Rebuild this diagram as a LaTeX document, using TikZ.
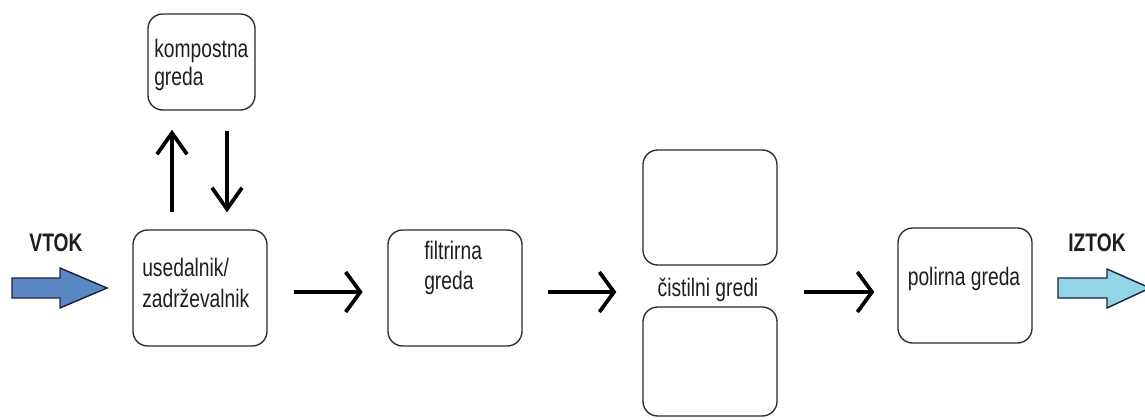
\documentclass[tikz,border=0pt]{standalone}
\usepackage{fontspec}
\setmainfont{Liberation Sans}[FakeStretch=0.76]
\usetikzlibrary{arrows.meta,calc}
\definecolor{boxline}{HTML}{2A2A2A}
\definecolor{txt}{HTML}{1E1E1E}
\definecolor{inblue}{HTML}{5B87C4}
\definecolor{outcyan}{HTML}{92D5E6}
\definecolor{blockline}{HTML}{1A2540}
\tikzset{
  pbox/.style={draw=boxline, line width=1pt, rounded corners=11pt, rectangle, inner sep=0pt, minimum width=100.5pt},
  lbl/.style={inner sep=0pt, text=txt, font=\fontsize{19pt}{23pt}\selectfont, align=left},
  title/.style={inner sep=0pt, text=txt, font=\fontsize{19pt}{23pt}\selectfont\bfseries},
  harrow/.style={line width=2.8pt, -{Straight Barb[length=11pt,width=30pt]}},
  varrow/.style={line width=2.8pt, -{Straight Barb[length=16pt,width=22.5pt]}},
  blockarrow/.style={draw=blockline, line width=1.1pt, line join=miter}
}
\begin{document}
\begin{tikzpicture}[x=0.75pt,y=-0.75pt]
\useasboundingbox (0,0) rectangle (1145,419);
% boxes
\node[pbox, minimum width=80.25pt, minimum height=72pt] (komp) at (201.5,62) {};
\node[pbox, minimum height=87pt] (used) at (200,288) {};
\node[pbox, minimum height=87pt] (filt) at (455,288) {};
\node[pbox, minimum height=86.25pt] (cistA) at (710,207.5) {};
\node[pbox, minimum height=81.75pt] (cistB) at (710,361.5) {};
\node[pbox, minimum height=86.25pt] (pol) at (965,285.5) {};
% texts
\node[lbl, anchor=west, font=\fontsize{19pt}{21pt}\selectfont] (kompT) at (154,65) {kompostna\\greda};
\node[lbl, anchor=west] (usedT) at (142,283) {usedalnik/\\zadrževalnik};
\node[lbl, anchor=west] (filtT) at (424,268) {filtrirna\\greda};
\node[lbl] (cistT) at (708,290) {čistilni gredi};
\node[lbl] (polT) at (964,279) {polirna greda};
\node[title] (vtok) at (56,243) {VTOK};
\node[title] (iztok) at (1097,243) {IZTOK};
% block arrows
\draw[blockarrow, fill=inblue] (12,278) -- (60,278) -- (60,268) -- (107,288) -- (60,308) -- (60,298) -- (12,298) -- cycle;
\draw[blockarrow, fill=outcyan] (1058,278) -- (1107,278) -- (1107,269) -- (1150,288) -- (1107,308) -- (1107,298) -- (1058,298) -- cycle;
% flow arrows
\draw[harrow, shorten <=19.5pt, shorten >=18.5pt] ([yshift=-3pt]used.east) -- ([yshift=-3pt]used.east -| filt.west);
\draw[harrow, shorten <=18.75pt, shorten >=19.5pt] ([yshift=-3pt]filt.east) -- ([yshift=-3pt]filt.east -| cistA.west);
\draw[harrow, shorten <=19.5pt, shorten >=17.25pt] ([yshift=-3pt]filt.east -| cistA.east) -- ([yshift=-3pt]filt.east -| pol.west);
% vertical arrows
\coordinate (upB) at ([xshift=-21pt]used.north);
\coordinate (upT) at (upB |- komp.south);
\coordinate (dnB) at ([xshift=20.25pt]used.north);
\coordinate (dnT) at (dnB |- komp.south);
\draw[varrow, shorten <=12.75pt, shorten >=14.25pt] (upB) -- (upT);
\draw[varrow, shorten <=15pt, shorten >=12.75pt] (dnT) -- (dnB);
\end{tikzpicture}
\end{document}
